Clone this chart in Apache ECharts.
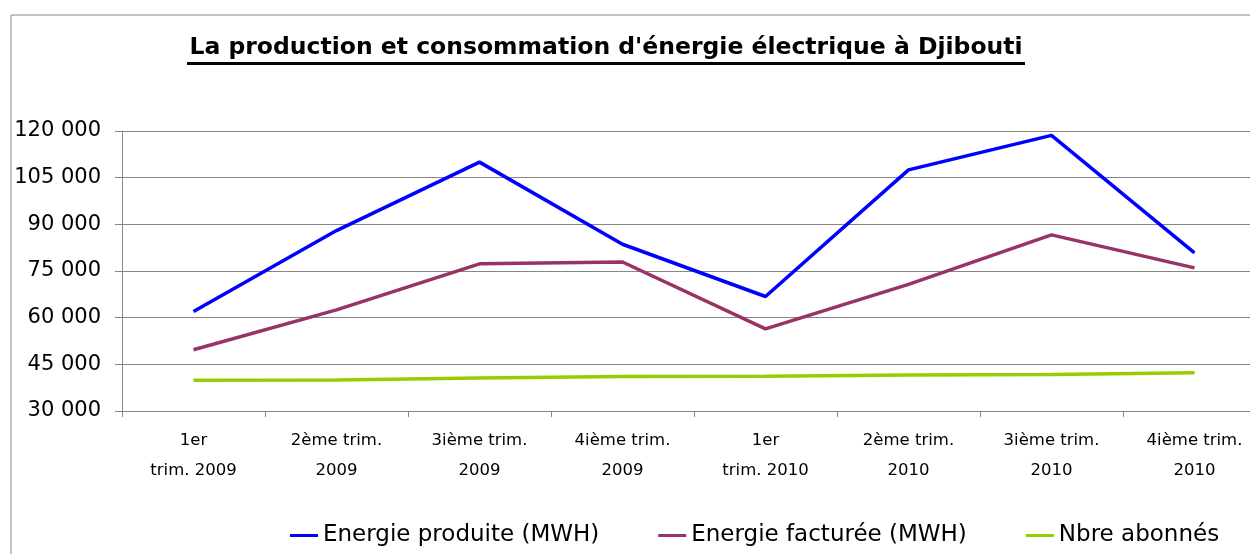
<!DOCTYPE html>
<html>
<head>
<meta charset="utf-8">
<script src="https://cdn.jsdelivr.net/npm/echarts@6/dist/echarts.min.js"></script>
<style>
  html, body { margin: 0; padding: 0; background: #fff; overflow: hidden; }
  /* le graphique d'origine est coupé à droite */
  #chart { width: 1272px; height: 554px; }
</style>
</head>
<body>
<div id="chart"></div>
<script>
// trimestres
var categories = ['1er\ntrim. 2009', '2ème trim.\n2009', '3ième trim.\n2009', '4ième trim.\n2009',
                  '1er\ntrim. 2010', '2ème trim.\n2010', '3ième trim.\n2010', '4ième trim.\n2010'];
var energieProduite = [62000, 88000, 110000, 83600, 66800, 107500, 118600, 80800];
var energieFacturee = [49700, 62500, 77300, 77900, 56400, 70700, 86600, 76000];
var nbreAbonnes = [39900, 40000, 40600, 41100, 41200, 41600, 41700, 42300];
var seriesNames = ['Energie produite (MWH)', 'Energie facturée (MWH)', 'Nbre abonnés'];
var yTicks = { min: 30000, max: 120000, interval: 15000 };

function fmtNum(v) {
    return String(v).replace(/\B(?=(\d{3})+(?!\d))/g, ' ');
}

var font = 'DejaVu Sans';
var chart = echarts.init(document.getElementById('chart'));
chart.setOption({
    animation: false,
    backgroundColor: '#fff',
    textStyle: { fontFamily: font },
    graphic: [
        // cadre du graphique (gauche + haut)
        { type: 'line', shape: { x1: 11, y1: 15, x2: 11, y2: 554 },
          style: { stroke: '#868686', lineWidth: 1 } },
        { type: 'line', shape: { x1: 11, y1: 15, x2: 1272, y2: 15 },
          style: { stroke: '#868686', lineWidth: 1 } },
        { type: 'text', x: 606, y: 48, style: {
            text: "La production et consommation d'énergie électrique à Djibouti",
            font: 'bold 23.5px "DejaVu Sans"', fill: '#000',
            align: 'center', verticalAlign: 'middle' } },
        { type: 'rect', shape: { x: 187, y: 62, width: 838, height: 3 }, style: { fill: '#000' } }
    ],
    grid: { left: 122, top: 131, width: 1144, height: 280 },
    legend: {
        bottom: 7, left: 290, padding: 0,
        itemWidth: 28, itemHeight: 3, itemGap: 59,
        icon: 'rect',
        textStyle: { fontSize: 23, color: '#000', fontFamily: font },
        data: seriesNames
    },
    xAxis: {
        type: 'category',
        data: categories,
        boundaryGap: true,
        axisLine: { lineStyle: { color: '#868686' } },
        axisTick: { show: true, length: 6, lineStyle: { color: '#868686' } },
        axisLabel: { color: '#000', fontSize: 16.5, lineHeight: 30, margin: 15, interval: 0 }
    },
    yAxis: {
        type: 'value',
        min: yTicks.min, max: yTicks.max, interval: yTicks.interval,
        axisLine: { show: true, lineStyle: { color: '#868686' } },
        axisTick: { show: true, length: 7, lineStyle: { color: '#868686' } },
        splitLine: { lineStyle: { color: '#868686' } },
        axisLabel: { color: '#000', fontSize: 21, margin: 21, formatter: fmtNum }
    },
    series: [
        { name: seriesNames[0], type: 'line', data: energieProduite, showSymbol: false,
          itemStyle: { color: '#0000ff' }, lineStyle: { color: '#0000ff', width: 3.5 } },
        { name: seriesNames[1], type: 'line', data: energieFacturee, showSymbol: false,
          itemStyle: { color: '#993366' }, lineStyle: { color: '#993366', width: 3.5 } },
        { name: seriesNames[2], type: 'line', data: nbreAbonnes, showSymbol: false,
          itemStyle: { color: '#99cc00' }, lineStyle: { color: '#99cc00', width: 3.5 } }
    ]
});
</script>
</body>
</html>
